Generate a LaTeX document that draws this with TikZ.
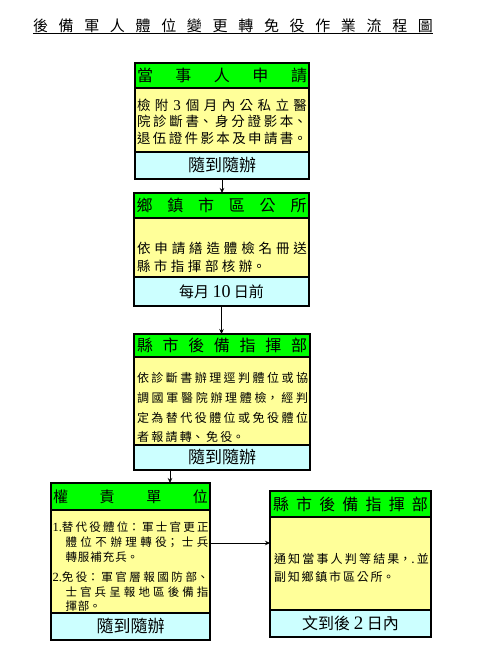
\documentclass[tikz,border=0pt]{standalone}
\usepackage{fontspec}
\setmainfont{Noto Sans CJK TC}
\newfontfamily\lat{Liberation Serif}
\usetikzlibrary{arrows.meta}
\XeTeXlinebreaklocale "zh"
\XeTeXlinebreakskip=0pt plus 20pt
\tolerance=10000
\hbadness=10000
\hfuzz=3pt
\definecolor{hgreen}{HTML}{00FF00}
\definecolor{byellow}{HTML}{FFFF99}
\definecolor{fblue}{HTML}{CCFFFF}
\newcommand\fs[2]{\fontsize{#1pt}{#2pt}\selectfont}
\newcommand\spreadbox[3]{\hbox to #1pt{\fs{#2}{#2}#3}}
\newcommand\ics[1]{\XeTeXlinebreakskip=#1pt plus 20pt minus 1pt\relax}
\tikzset{
  box/.style={draw=black, line width=1.6pt, inner sep=0pt, outer sep=0pt, anchor=north west},
  hdr/.style={box, fill=hgreen},
  bdy/.style={box, fill=byellow},
  band/.style={box, fill=fblue},
  txt/.style={inner sep=0pt, outer sep=0pt, anchor=north west, align=justify},
  arr/.style={line width=0.9pt, -{Stealth[length=5pt,width=4.5pt]}}
}
\begin{document}
\begin{tikzpicture}[x=1pt,y=-1pt]
\useasboundingbox (0,0) rectangle (482,669);
% title
\node[inner sep=0pt] (title) at (233,25.5) {\spreadbox{400}{15}{後\hfill 備\hfill 軍\hfill 人\hfill 體\hfill 位\hfill 變\hfill 更\hfill 轉\hfill 免\hfill 役\hfill 作\hfill 業\hfill 流\hfill 程\hfill 圖}};
\draw[line width=0.9pt] ([yshift=-0.8pt]title.south west) -- ([yshift=-0.8pt]title.south east);

% box 1
\node[bdy, minimum width=174pt, minimum height=64pt] (b1) at (135,88) {};
\node[hdr, minimum width=174pt, minimum height=25pt] (h1) at (135,63) {\spreadbox{170}{16}{當\hfill 事\hfill 人\hfill 申\hfill 請}};
\node[band, minimum width=174pt, minimum height=27pt, font=\fs{17}{17}] (f1) at (135,152) {隨到隨辦};
\node[txt, text width=170pt, font=\fs{13.5}{16.7}] (t1) at (137,98.8) {\ics{2}\parfillskip=0pt 檢附\hspace{5pt}{\lat\fs{15}{16.7}3}\hspace{5pt}個月內公私立醫\linebreak 院診斷書、身分證影本、\linebreak 退伍證件影本及申請書。\par};

% box 2
\node[bdy, minimum width=175pt, minimum height=59pt] (b2) at (134,218) {};
\node[hdr, minimum width=175pt, minimum height=25pt] (h2) at (134,193) {\spreadbox{170}{16}{鄉\hfill 鎮\hfill 市\hfill 區\hfill 公\hfill 所}};
\node[band, minimum width=175pt, minimum height=29pt, font=\fs{15}{15}] (f2) at (134,277) {每月 {\lat\fs{18}{18}10} 日前};
\node[txt, text width=170pt, font=\fs{13.5}{18}] (t2) at (137,242) {\ics{3.5}依申請繕造體檢名冊送\linebreak 縣市指揮部核辦。\par};

% box 3
\node[bdy, minimum width=176pt, minimum height=88pt] (b3) at (134,357) {};
\node[hdr, minimum width=176pt, minimum height=23pt] (h3) at (134,334) {\spreadbox{170}{16}{縣\hfill 市\hfill 後\hfill 備\hfill 指\hfill 揮\hfill 部}};
\node[band, minimum width=176pt, minimum height=25pt, font=\fs{17}{17}] (f3) at (134,445) {隨到隨辦};
\node[txt, text width=171pt, font=\fs{12}{19.7}] (t3) at (137,372.6) {\ics{2.3}依診斷書辦理逕判體位或協\linebreak 調國軍醫院辦理體檢，經判\linebreak 定為替代役體位或免役體位\linebreak 者報請轉、免役。\par};

% box 4 left
\node[bdy, minimum width=159pt, minimum height=103pt] (b4) at (51,510) {};
\node[hdr, minimum width=159pt, minimum height=27pt] (h4) at (51,483) {\spreadbox{155}{15}{權\hfill 責\hfill 單\hfill 位}};
\node[band, minimum width=159pt, minimum height=27pt, font=\fs{17}{17}] (f4) at (51,613) {隨到隨辦};
\node[txt, text width=156pt, font=\fs{11.5}{15.2}] (t4a) at (52.5,521.8) {\ics{1}\hangindent=13pt\hangafter=1 {\lat\fs{12.5}{15.2}1.}替代役體位：軍士官更正\linebreak 體位不辦理轉役；士兵\linebreak 轉服補充兵。\par};
\node[txt, text width=156pt, font=\fs{11.5}{14.5}] (t4b) at (52.5,571.8) {\ics{1}\hangindent=13pt\hangafter=1 {\lat\fs{12.5}{14.5}2.}免役：軍官層報國防部、\linebreak 士官兵呈報地區後備指\linebreak 揮部。\par};

% box 4 right
\node[bdy, minimum width=161pt, minimum height=93pt] (b5) at (270,517) {};
\node[hdr, minimum width=161pt, minimum height=26pt] (h5) at (270,491) {\spreadbox{155}{16}{縣\hfill 市\hfill 後\hfill 備\hfill 指\hfill 揮\hfill 部}};
\node[band, minimum width=161pt, minimum height=27pt, font=\fs{16}{16}] (f5) at (270,610) {文到後 {\lat\fs{19}{19}2} 日內};
\node[txt, text width=155pt, font=\fs{12}{18}] (t5) at (274,553.6) {\ics{1.8}通知當事人判等結果，.並\linebreak 副知鄉鎮市區公所。\par};

% connectors
\draw[arr] (f1.south) -- (f1.south |- h2.north);
\draw[arr] (f2.south) -- (f2.south |- h3.north);
\draw[arr] ([xshift=-52pt]f3.south) -- ([xshift=-52pt]f3.south |- h4.north);
\draw[arr] ([yshift=18.5pt]b4.east) -- ([yshift=18.5pt]b4.east -| b5.west);
\end{tikzpicture}
\end{document}
